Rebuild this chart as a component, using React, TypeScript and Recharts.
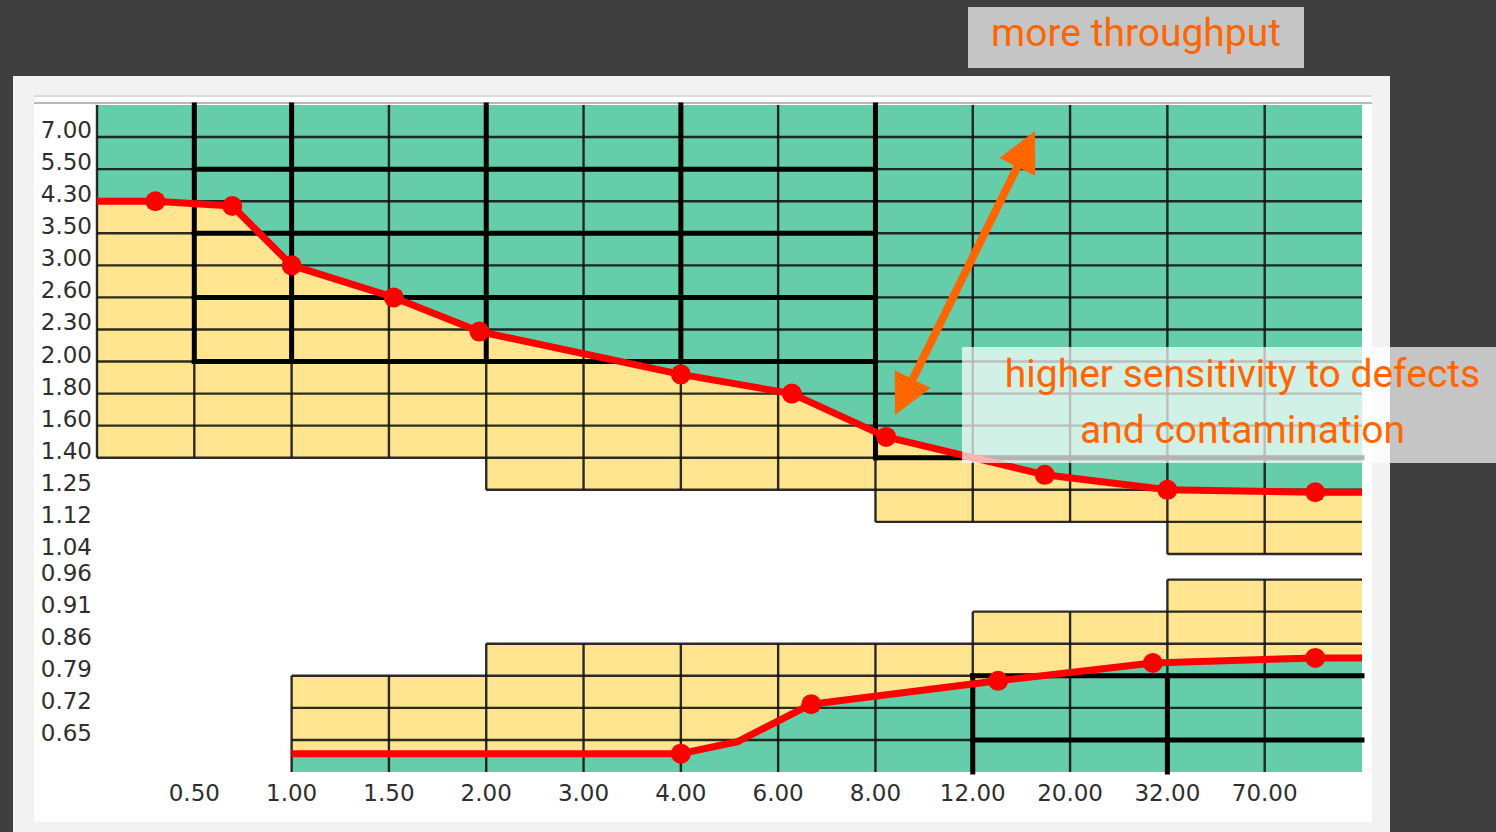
import React from 'react';
import {
  ComposedChart,
  Area,
  Line,
  XAxis,
  YAxis,
  ReferenceArea,
  ReferenceLine,
} from 'recharts';

// ---------------- data ----------------
const xTickLabels = ['0.50', '1.00', '1.50', '2.00', '3.00', '4.00', '6.00', '8.00', '12.00', '20.00', '32.00', '70.00'];
const yTickLabels = [
  '0.65', '0.72', '0.79', '0.86', '0.91', '0.96',
  '1.04', '1.12', '1.25', '1.40', '1.60', '1.80', '2.00', '2.30', '2.60', '3.00', '3.50', '4.30', '5.50', '7.00',
];
const yBottomValue = 0.58; // unlabeled bottom row edge
const yTopValue = 8.5; // unlabeled top row edge

// block extent per grid column (13 columns)
const upperFloor = [1.4, 1.4, 1.4, 1.4, 1.25, 1.25, 1.25, 1.25, 1.12, 1.12, 1.12, 1.04, 1.04];
const lowerCeiling: (number | null)[] = [null, null, 0.79, 0.79, 0.86, 0.86, 0.86, 0.86, 0.86, 0.91, 0.91, 0.96, 0.96];

// emphasised (bold) grid lines
const boldUpperColumns = [1, 2, 4, 6];
const boldUpperRows = [5.5, 3.5, 2.6, 2.0];
const boldLowerColumns = [9, 11];
const boldLowerRows = [0.79, 0.65];

// upper red curve (x in grid-column units)
const upperX = [0, 0.6, 1.39, 2.0, 3.05, 3.93, 6.0, 7.14, 8.11, 9.74, 11.0, 12.52, 13];
const upperY = [4.3, 4.3, 4.18, 3.0, 2.6, 2.28, 1.92, 1.8, 1.53, 1.32, 1.25, 1.24, 1.24];
const upperMarked = [false, true, true, true, true, true, true, true, true, true, true, true, false];

// lower red curve
const lowerX = [2.0, 6.0, 6.58, 7.34, 9.26, 10.85, 12.52, 13];
const lowerY = [0.62, 0.62, 0.646, 0.728, 0.779, 0.818, 0.829, 0.829];
const lowerMarked = [false, true, false, true, true, true, true, false];

// ---------------- scale helpers ----------------
const COLS = upperFloor.length;
const GAP_INDEX = 7; // rows above 0.96 are slightly shifted (compressed gap)
const GAP_SHRINK = 0.2;
const levelValues = [yBottomValue, ...yTickLabels.map(Number), yTopValue];
const levelPos = levelValues.map((_, i) => (i < GAP_INDEX ? i : i - GAP_SHRINK));
const TOP = levelPos[levelPos.length - 1];

function toPos(v: number): number {
  for (let i = 0; i < levelValues.length - 1; i++) {
    const a = levelValues[i];
    const b = levelValues[i + 1];
    if (v <= b + 1e-9) {
      const t = (v - a) / (b - a);
      return levelPos[i] + t * (levelPos[i + 1] - levelPos[i]);
    }
  }
  return TOP;
}

const yTickPositions = yTickLabels.map((l) => toPos(Number(l)));
const xTickPositions = xTickLabels.map((_, i) => i + 1);

const upperData = upperX.map((x, i) => ({
  x,
  pos: toPos(upperY[i]),
  band: [toPos(upperY[i]), TOP],
  m: upperMarked[i],
}));
const lowerData = lowerX.map((x, i) => ({
  x,
  pos: toPos(lowerY[i]),
  band: [0, toPos(lowerY[i])],
  m: lowerMarked[i],
}));

// runs of equal block extent
function runs(arr: (number | null)[]) {
  const out: { from: number; to: number; v: number }[] = [];
  arr.forEach((v, c) => {
    if (v == null) return;
    const last = out[out.length - 1];
    if (last && last.v === v && last.to === c) last.to = c + 1;
    else out.push({ from: c, to: c + 1, v });
  });
  return out;
}
const upperRuns = runs(upperFloor);
const lowerRuns = runs(lowerCeiling);
const upperLevels = yTickLabels.map(Number).filter((v) => v >= 1.0);
const lowerLevels = yTickLabels.map(Number).filter((v) => v < 1.0);

type Seg = [number, number, number, number];
const thinSegs: Seg[] = [];
upperRuns.forEach((r) => {
  upperLevels
    .filter((v) => v >= r.v - 1e-9)
    .forEach((v) => thinSegs.push([r.from, toPos(v), r.to, toPos(v)]));
});
for (let c = 0; c < COLS; c++) {
  const left = c > 0 ? toPos(upperFloor[c - 1]) : TOP;
  const bottom = Math.min(left, toPos(upperFloor[c]));
  thinSegs.push([c, bottom, c, TOP]);
}
lowerRuns.forEach((r) => {
  lowerLevels
    .filter((v) => v <= r.v + 1e-9)
    .forEach((v) => thinSegs.push([r.from, toPos(v), r.to, toPos(v)]));
});
for (let c = 0; c < COLS; c++) {
  const a = c > 0 ? lowerCeiling[c - 1] : null;
  const b = lowerCeiling[c];
  if (a == null && b == null) continue;
  const top = Math.max(a == null ? 0 : toPos(a), b == null ? 0 : toPos(b));
  thinSegs.push([c, 0, c, top]);
}

const boldSegs: Seg[] = [];
boldUpperColumns.forEach((c) => boldSegs.push([c, toPos(2.0), c, TOP]));
boldSegs.push([8, toPos(1.4), 8, TOP]);
boldUpperRows.forEach((v) => boldSegs.push([1, toPos(v), 8, toPos(v)]));
boldSegs.push([8, toPos(1.4), COLS, toPos(1.4)]);
boldLowerColumns.forEach((c) => boldSegs.push([c, 0, c, toPos(0.79)]));
boldLowerRows.forEach((v) => boldSegs.push([9, toPos(v), COLS, toPos(v)]));

// ---------------- colours ----------------
const GREEN = '#66cdaa';
const YELLOW = '#ffe58f';
const RED = '#ff0000';
const ORANGE = '#ff6600';
const LABEL_FONT = '"DejaVu Sans", Verdana, sans-serif';

const renderDot = (p: any) =>
  p.payload && p.payload.m ? (
    <circle key={`d${p.index}`} cx={p.cx} cy={p.cy} r={10} fill={RED} />
  ) : (
    <g key={`d${p.index}`} />
  );

const YTick = (p: any) => {
  const idx = yTickPositions.findIndex((t) => Math.abs(t - p.payload.value) < 1e-6);
  return (
    <text x={92} y={p.y + 1} textAnchor="end" fontFamily={LABEL_FONT} fontSize={23} fill="#2e2e2e">
      {yTickLabels[idx]}
    </text>
  );
};
const XTick = (p: any) => {
  const idx = Math.round(p.payload.value) - 1;
  return (
    <text x={p.x} y={p.y + 29} textAnchor="middle" fontFamily={LABEL_FONT} fontSize={23} fill="#2e2e2e">
      {xTickLabels[idx]}
    </text>
  );
};

function Arrow() {
  const a = { x: 895, y: 415 };
  const b = { x: 1035, y: 131 };
  const dx = b.x - a.x;
  const dy = b.y - a.y;
  const len = Math.hypot(dx, dy);
  const ux = dx / len;
  const uy = dy / len;
  const nx = -uy;
  const ny = ux;
  const L = 40;
  const W = 20;
  const head = (tx: number, ty: number, dir: number) => {
    const bx = tx - dir * L * ux;
    const by = ty - dir * L * uy;
    return `${tx},${ty} ${bx + W * nx},${by + W * ny} ${bx - W * nx},${by - W * ny}`;
  };
  return (
    <svg width={1496} height={832} style={{ position: 'absolute', left: 0, top: 0, pointerEvents: 'none' }}>
      <line
        x1={a.x + (L - 2) * ux}
        y1={a.y + (L - 2) * uy}
        x2={b.x - (L - 2) * ux}
        y2={b.y - (L - 2) * uy}
        stroke={ORANGE}
        strokeWidth={8}
      />
      <polygon points={head(b.x, b.y, 1)} fill={ORANGE} />
      <polygon points={head(a.x, a.y, -1)} fill={ORANGE} />
    </svg>
  );
}

export default function App() {
  return (
    <div
      style={{
        position: 'absolute',
        left: 0,
        top: 0,
        width: 1496,
        height: 832,
        background: '#3f3f3f',
        overflow: 'hidden',
      }}
    >
      {/* window panel */}
      <div style={{ position: 'absolute', left: 13, top: 76, width: 1377, height: 770, background: '#f2f2f2' }} />
      <div style={{ position: 'absolute', left: 34, top: 95, width: 1338, height: 727, background: '#ffffff' }} />
      <div style={{ position: 'absolute', left: 34, top: 95, width: 1338, height: 2, background: '#dcdcdc' }} />
      <div style={{ position: 'absolute', left: 34, top: 102, width: 1338, height: 2, background: '#b9b9b9' }} />

      <div style={{ position: 'absolute', left: 0, top: 0 }}>
        <ComposedChart width={1496} height={832} margin={{ top: 105, right: 134, bottom: 30, left: 0 }}>
          <XAxis
            type="number"
            dataKey="x"
            domain={[0, COLS]}
            ticks={xTickPositions}
            interval={0}
            tick={XTick}
            tickLine={false}
            axisLine={false}
            tickSize={0}
            tickMargin={0}
            height={30}
            allowDataOverflow
          />
          <YAxis
            type="number"
            domain={[0, TOP]}
            ticks={yTickPositions}
            interval={0}
            tick={YTick}
            tickLine={false}
            axisLine={false}
            tickSize={0}
            tickMargin={5}
            width={97}
            allowDataOverflow
          />

          {upperRuns.map((r, i) => (
            <ReferenceArea
              key={`ua${i}`}
              x1={r.from}
              x2={r.to}
              y1={toPos(r.v)}
              y2={TOP}
              fill={YELLOW}
              fillOpacity={1}
              stroke="none"
              zIndex={10}
            />
          ))}
          {lowerRuns.map((r, i) => (
            <ReferenceArea
              key={`la${i}`}
              x1={r.from}
              x2={r.to}
              y1={0}
              y2={toPos(r.v)}
              fill={YELLOW}
              fillOpacity={1}
              stroke="none"
              zIndex={10}
            />
          ))}

          <Area
            data={upperData}
            dataKey="band"
            type="linear"
            fill={GREEN}
            fillOpacity={1}
            stroke="none"
            isAnimationActive={false}
            zIndex={20}
          />
          <Area
            data={lowerData}
            dataKey="band"
            type="linear"
            fill={GREEN}
            fillOpacity={1}
            stroke="none"
            isAnimationActive={false}
            zIndex={20}
          />

          {thinSegs.map((s, i) => (
            <ReferenceLine
              key={`t${i}`}
              segment={[
                { x: s[0], y: s[1] },
                { x: s[2], y: s[3] },
              ]}
              stroke="#151515"
              strokeWidth={2.4}
              strokeOpacity={0.9}
              zIndex={30}
            />
          ))}
          {boldSegs.map((s, i) => (
            <ReferenceLine
              key={`b${i}`}
              segment={[
                { x: s[0], y: s[1] },
                { x: s[2], y: s[3] },
              ]}
              stroke="#000000"
              strokeWidth={5}
              strokeLinecap="square"
              zIndex={31}
            />
          ))}

          <Line
            data={upperData}
            dataKey="pos"
            type="linear"
            stroke={RED}
            strokeWidth={7}
            strokeLinejoin="round"
            dot={renderDot}
            activeDot={false}
            isAnimationActive={false}
            zIndex={40}
          />
          <Line
            data={lowerData}
            dataKey="pos"
            type="linear"
            stroke={RED}
            strokeWidth={7}
            strokeLinejoin="round"
            dot={renderDot}
            activeDot={false}
            isAnimationActive={false}
            zIndex={40}
          />
        </ComposedChart>
      </div>

      <Arrow />

      {/* annotations */}
      <div
        style={{
          position: 'absolute',
          left: 968,
          top: 7,
          width: 336,
          height: 61,
          background: 'rgba(255,255,255,0.7)',
        }}
      />
      <div
        style={{
          position: 'absolute',
          left: 968,
          top: 3,
          width: 336,
          height: 61,
          lineHeight: '61px',
          textAlign: 'center',
          fontFamily: 'Roboto, sans-serif',
          fontSize: 39,
          color: ORANGE,
          whiteSpace: 'nowrap',
        }}
      >
        more throughput
      </div>

      <div
        style={{
          position: 'absolute',
          left: 962,
          top: 347,
          width: 560,
          height: 116,
          background: 'rgba(255,255,255,0.7)',
        }}
      />
      <div
        style={{
          position: 'absolute',
          left: 962,
          top: 346,
          width: 561,
          lineHeight: '56px',
          textAlign: 'center',
          fontFamily: 'Roboto, sans-serif',
          fontSize: 39,
          color: ORANGE,
          whiteSpace: 'nowrap',
        }}
      >
        <div>higher sensitivity to defects</div>
        <div>and contamination</div>
      </div>
    </div>
  );
}
